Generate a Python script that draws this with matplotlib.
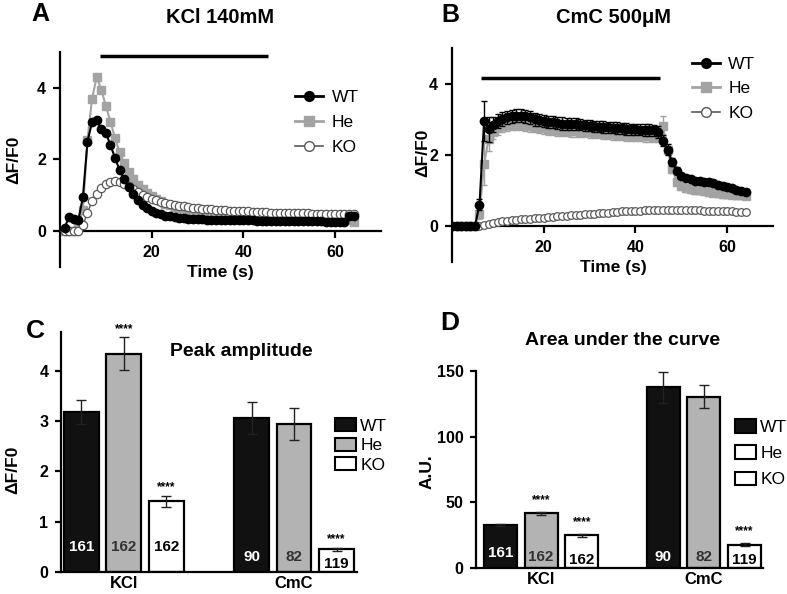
import matplotlib
matplotlib.use('Agg')
import matplotlib.pyplot as plt
from matplotlib.lines import Line2D
from matplotlib.patches import Patch

plt.rcParams['font.family'] = ['Liberation Sans', 'DejaVu Sans']

# ---------------- data ----------------
# panel A: KCl 140mM, one sample per second
t_kcl = list(range(1, 65))
wt_kcl = [0.10, 0.40, 0.35, 0.30, 0.95, 2.50, 3.05, 3.10, 2.85, 2.75,
          2.40, 2.05, 1.70, 1.45, 1.22, 1.03, 0.86, 0.74, 0.64, 0.57,
          0.51, 0.47, 0.43, 0.41, 0.39, 0.37, 0.36, 0.35, 0.34, 0.33,
          0.33, 0.32, 0.32, 0.32, 0.31, 0.31, 0.31, 0.30, 0.30, 0.30,
          0.30, 0.30, 0.29, 0.29, 0.29, 0.29, 0.29, 0.28, 0.28, 0.28,
          0.28, 0.28, 0.27, 0.27, 0.27, 0.27, 0.27, 0.26, 0.26, 0.26,
          0.26, 0.25, 0.42, 0.42]
he_kcl = [0.00, 0.00, 0.00, 0.15, 0.60, 2.55, 3.70, 4.30, 3.95, 3.50,
          3.05, 2.60, 2.20, 1.90, 1.65, 1.45, 1.30, 1.17, 1.06, 0.97,
          0.89, 0.83, 0.77, 0.72, 0.68, 0.64, 0.61, 0.58, 0.55, 0.53,
          0.51, 0.49, 0.47, 0.46, 0.45, 0.44, 0.43, 0.42, 0.41, 0.40,
          0.39, 0.39, 0.38, 0.38, 0.37, 0.37, 0.36, 0.36, 0.35, 0.35,
          0.35, 0.34, 0.34, 0.34, 0.33, 0.33, 0.33, 0.32, 0.32, 0.32,
          0.31, 0.31, 0.30, 0.25]
ko_kcl = [0.00, 0.00, 0.00, 0.00, 0.18, 0.50, 0.85, 1.05, 1.20, 1.32,
          1.38, 1.40, 1.38, 1.33, 1.25, 1.17, 1.09, 1.02, 0.96, 0.91,
          0.86, 0.82, 0.79, 0.76, 0.73, 0.71, 0.69, 0.67, 0.65, 0.64,
          0.63, 0.62, 0.61, 0.60, 0.59, 0.58, 0.57, 0.56, 0.56, 0.55,
          0.55, 0.54, 0.54, 0.53, 0.53, 0.52, 0.52, 0.52, 0.51, 0.51,
          0.51, 0.50, 0.50, 0.50, 0.49, 0.49, 0.49, 0.48, 0.48, 0.48,
          0.48, 0.47, 0.47, 0.47]
kcl_stim = [8.7, 45.4]

# panel B: CmC 500uM
t_cmc = list(range(0, 65))
wt_cmc = [0.00, 0.00, 0.00, 0.00, 0.00, 0.00, 0.60, 2.95, 2.72, 2.85,
          2.95, 3.00, 3.05, 3.08, 3.10, 3.10, 3.08, 3.05, 3.00, 2.97,
          2.95, 2.93, 2.92, 2.90, 2.88, 2.87, 2.86, 2.86, 2.85, 2.83,
          2.82, 2.80, 2.79, 2.78, 2.77, 2.76, 2.75, 2.74, 2.73, 2.72,
          2.72, 2.71, 2.70, 2.70, 2.69, 2.64, 2.40, 2.15, 1.80, 1.55,
          1.42, 1.36, 1.31, 1.28, 1.26, 1.25, 1.24, 1.20, 1.16, 1.13,
          1.10, 1.06, 1.02, 0.98, 0.96]
wt_cmc_err = [0.02, 0.02, 0.02, 0.02, 0.02, 0.02, 0.15, 0.55, 0.35, 0.22,
              0.20, 0.19, 0.18, 0.18, 0.18, 0.18, 0.18, 0.18, 0.18, 0.17,
              0.17, 0.17, 0.17, 0.17, 0.17, 0.17, 0.17, 0.17, 0.16, 0.16,
              0.16, 0.16, 0.16, 0.16, 0.16, 0.16, 0.16, 0.16, 0.16, 0.16,
              0.16, 0.16, 0.16, 0.16, 0.16, 0.16, 0.16, 0.15, 0.12, 0.10,
              0.08, 0.07, 0.07, 0.07, 0.07, 0.07, 0.07, 0.07, 0.07, 0.07,
              0.07, 0.07, 0.07, 0.07, 0.07]
he_cmc = [0.00, 0.00, 0.00, 0.00, 0.00, 0.00, 0.35, 1.75, 2.45, 2.65,
          2.75, 2.80, 2.83, 2.85, 2.86, 2.85, 2.83, 2.80, 2.78, 2.76,
          2.74, 2.72, 2.70, 2.69, 2.68, 2.67, 2.66, 2.66, 2.65, 2.64,
          2.63, 2.62, 2.61, 2.60, 2.59, 2.58, 2.57, 2.56, 2.55, 2.54,
          2.54, 2.53, 2.52, 2.52, 2.51, 2.50, 2.80, 2.15, 1.60, 1.25,
          1.12, 1.06, 1.03, 1.01, 1.00, 0.98, 0.96, 0.94, 0.92, 0.90,
          0.89, 0.88, 0.87, 0.86, 0.85]
he_cmc_err = [0.02, 0.02, 0.02, 0.02, 0.02, 0.02, 0.15, 0.60, 0.35, 0.20,
              0.18, 0.16, 0.15, 0.15, 0.15, 0.15, 0.15, 0.15, 0.15, 0.15,
              0.15, 0.15, 0.15, 0.15, 0.15, 0.15, 0.15, 0.15, 0.15, 0.15,
              0.15, 0.15, 0.15, 0.15, 0.15, 0.15, 0.15, 0.15, 0.15, 0.15,
              0.15, 0.15, 0.15, 0.15, 0.15, 0.15, 0.28, 0.15, 0.12, 0.10,
              0.10, 0.10, 0.10, 0.10, 0.10, 0.10, 0.10, 0.10, 0.10, 0.10,
              0.10, 0.10, 0.10, 0.10, 0.10]
ko_cmc = [0.00, 0.00, 0.00, 0.00, 0.00, 0.00, 0.00, 0.04, 0.07, 0.09,
          0.11, 0.13, 0.15, 0.16, 0.18, 0.19, 0.20, 0.21, 0.22, 0.23,
          0.24, 0.25, 0.26, 0.27, 0.28, 0.29, 0.30, 0.31, 0.32, 0.33,
          0.34, 0.35, 0.36, 0.37, 0.38, 0.39, 0.40, 0.41, 0.41, 0.42,
          0.43, 0.43, 0.44, 0.44, 0.44, 0.45, 0.45, 0.45, 0.45, 0.45,
          0.45, 0.45, 0.44, 0.44, 0.44, 0.43, 0.43, 0.42, 0.42, 0.42,
          0.41, 0.41, 0.40, 0.40, 0.39]
cmc_stim = [6.3, 45.4]

# panels C and D: bar summaries
genotypes = ['WT', 'He', 'KO']
stimuli = ['KCl', 'CmC']
peak_kcl = [3.18, 4.34, 1.40]
peak_kcl_err = [0.24, 0.33, 0.11]
peak_cmc = [3.06, 2.95, 0.45]
peak_cmc_err = [0.32, 0.32, 0.03]
auc_kcl = [32.9, 41.7, 24.9]
auc_kcl_err = [0.6, 1.3, 1.0]
auc_cmc = [137.3, 130.2, 17.9]
auc_cmc_err = [11.6, 8.8, 1.3]
n_kcl = ['161', '162', '162']
n_cmc = ['90', '82', '119']
stars_peak = ['', '****', '****', '', '', '****']
stars_auc = ['', '****', '****', '', '', '****']

# ---------------- figure ----------------
fig = plt.figure(figsize=(7.87, 5.94), dpi=100)
axA = fig.add_axes([0.0762, 0.5505, 0.408, 0.362])
axB = fig.add_axes([0.5743, 0.5594, 0.408, 0.3598])
axC = fig.add_axes([0.0775, 0.0375, 0.3761, 0.404])
axD = fig.add_axes([0.6048, 0.0433, 0.365, 0.3327])

gray_line = '#a3a3a3'
ko_edge = '#5a5a5a'
tick_fs = 11.5


def style_trace_axes(ax):
    ax.set_xlim(0, 70)
    ax.set_ylim(-1, 5)
    for s in ['top', 'right']:
        ax.spines[s].set_visible(False)
    ax.spines['bottom'].set_position(('data', 0))
    ax.spines['left'].set_linewidth(1.6)
    ax.spines['bottom'].set_linewidth(1.6)
    ax.set_xticks([20, 40, 60])
    ax.set_yticks([0, 2, 4])
    ax.tick_params(width=1.6, length=5)
    ax.tick_params(axis='x', pad=5)
    ax.tick_params(axis='y', pad=5)
    for lbl in ax.get_xticklabels() + ax.get_yticklabels():
        lbl.set_fontweight('bold')
        lbl.set_fontsize(tick_fs)


# panel A
axA.plot(t_kcl, he_kcl, color=gray_line, marker='s', ms=6, lw=1.5, zorder=2)
axA.plot(t_kcl, ko_kcl, color=ko_edge, marker='o', ms=6, mfc='white', mec=ko_edge,
         mew=0.9, lw=1.0, zorder=3)
axA.plot(t_kcl, wt_kcl, color='black', marker='o', ms=6, lw=1.5, zorder=4)
axA.plot(kcl_stim, [4.88, 4.88], color='black', lw=2.5, solid_capstyle='butt')
style_trace_axes(axA)

# panel B
axB.errorbar(t_cmc, he_cmc, yerr=he_cmc_err, color=gray_line, ecolor=gray_line,
             marker='s', ms=5.5, lw=1.5, elinewidth=1, capsize=2.5, zorder=2)
axB.plot(t_cmc, ko_cmc, color=ko_edge, marker='o', ms=5.5, mfc='white', mec=ko_edge,
         mew=0.9, lw=1.0, zorder=3)
axB.errorbar(t_cmc, wt_cmc, yerr=wt_cmc_err, color='black', ecolor='black',
             marker='o', ms=6, lw=1.5, elinewidth=1, capsize=2.5, zorder=4)
axB.plot(cmc_stim, [4.17, 4.17], color='black', lw=2.5, solid_capstyle='butt')
style_trace_axes(axB)

trace_handles = [
    Line2D([], [], color='black', marker='o', ms=7, lw=2),
    Line2D([], [], color=gray_line, marker='s', ms=7, lw=2),
    Line2D([], [], color=ko_edge, marker='o', ms=7, mfc='white', lw=1.2),
]
axA.legend(trace_handles, genotypes, loc='upper left', frameon=False, fontsize=12.5,
           bbox_to_anchor=(0.375, 0.848), bbox_transform=fig.transFigure,
           handlelength=1.6, handletextpad=0.5, labelspacing=0.55,
           borderpad=0, borderaxespad=0)
axB.legend(trace_handles, genotypes, loc='upper left', frameon=False, fontsize=12.5,
           bbox_to_anchor=(0.879, 0.905), bbox_transform=fig.transFigure,
           handlelength=1.6, handletextpad=0.5, labelspacing=0.55,
           borderpad=0, borderaxespad=0)

fig.text(0.2795, 0.542, 'Time (s)', ha='center', va='center', fontsize=12.5, fontweight='bold')
fig.text(0.779, 0.549, 'Time (s)', ha='center', va='center', fontsize=12.5, fontweight='bold')
fig.text(0.018, 0.731, 'ΔF/F0', ha='center', va='center', rotation=90, fontsize=12.5, fontweight='bold')
fig.text(0.537, 0.742, 'ΔF/F0', ha='center', va='center', rotation=90, fontsize=12.5, fontweight='bold')
fig.text(0.2795, 0.970, 'KCl 140mM', ha='center', va='center', fontsize=14.5, fontweight='bold')
fig.text(0.779, 0.970, 'CmC 500μM', ha='center', va='center', fontsize=14.5, fontweight='bold')
fig.text(0.051, 0.977, 'A', ha='center', va='center', fontsize=18, fontweight='bold')
fig.text(0.572, 0.975, 'B', ha='center', va='center', fontsize=18, fontweight='bold')

# panels C and D
bar_colors = ['#111111', '#b3b3b3', 'white']
n_colors = ['white', '#333333', 'black']
bar_x = [0, 1, 2, 4, 5, 6]


def draw_bars(ax, kcl, kcl_err, cmc, cmc_err, width, n_y, stars, star_pad):
    vals = kcl + cmc
    errs = kcl_err + cmc_err
    cols = bar_colors + bar_colors
    ax.bar(bar_x, vals, width=width, color=cols, edgecolor='black', linewidth=1.6,
           yerr=errs, capsize=3.5, error_kw=dict(elinewidth=1, capthick=1, ecolor='#222222'),
           zorder=2)
    labels = n_kcl + n_cmc
    tcols = n_colors + n_colors
    for x, lab, c, y in zip(bar_x, labels, tcols, n_y):
        ax.text(x, y, lab, ha='center', va='center', color=c, fontsize=11,
                fontweight='bold', zorder=3)
    for x, v, e, s in zip(bar_x, vals, errs, stars):
        if s:
            ax.text(x, v + e + star_pad, s, ha='center', va='bottom', fontsize=8.5,
                    fontweight='bold')
    for s in ['top', 'right']:
        ax.spines[s].set_visible(False)
    ax.spines['left'].set_linewidth(1.6)
    ax.spines['bottom'].set_linewidth(1.6)
    ax.set_xticks([1, 5])
    ax.set_xticklabels(stimuli, fontsize=12, fontweight='bold')
    ax.tick_params(axis='x', length=0, pad=3)
    ax.tick_params(axis='y', width=1.6, length=4, pad=5)


draw_bars(axC, peak_kcl, peak_kcl_err, peak_cmc, peak_cmc_err, 0.82,
          [0.5, 0.5, 0.5, 0.3, 0.3, 0.15], stars_peak, 0.05)
axC.set_xlim(-0.48, 6.48)
axC.set_ylim(0, 4.78)
axC.set_yticks([0, 1, 2, 3, 4])
for lbl in axC.get_yticklabels():
    lbl.set_fontweight('bold')
    lbl.set_fontsize(tick_fs)

draw_bars(axD, auc_kcl, auc_kcl_err, auc_cmc, auc_cmc_err, 0.81,
          [11.4, 8.8, 6.3, 8.8, 8.8, 6.3], stars_auc, 4.5)
axD.set_xlim(-0.6, 6.46)
axD.set_ylim(0, 150)
axD.set_yticks([0, 50, 100, 150])
for lbl in axD.get_yticklabels():
    lbl.set_fontweight('bold')
    lbl.set_fontsize(tick_fs)

c_handles = [Patch(facecolor=c, edgecolor='black', linewidth=1.5) for c in bar_colors]
d_handles = [Patch(facecolor=c, edgecolor='black', linewidth=1.5)
             for c in ['#111111', 'white', 'white']]
axC.legend(c_handles, genotypes, loc='upper left', frameon=False, fontsize=12.5,
           bbox_to_anchor=(0.4257, 0.296), bbox_transform=fig.transFigure,
           handlelength=1.2, handleheight=0.8, handletextpad=0.25, labelspacing=0.22,
           borderpad=0, borderaxespad=0)
axD.legend(d_handles, genotypes, loc='upper left', frameon=False, fontsize=12.5,
           bbox_to_anchor=(0.934, 0.294), bbox_transform=fig.transFigure,
           handlelength=1.2, handleheight=0.8, handletextpad=0.25, labelspacing=0.6,
           borderpad=0, borderaxespad=0)

fig.text(0.307, 0.408, 'Peak amplitude', ha='center', va='center', fontsize=14, fontweight='bold')
fig.text(0.7916, 0.4276, 'Area under the curve', ha='center', va='center', fontsize=14,
         fontweight='bold')
fig.text(0.0445, 0.443, 'C', ha='center', va='center', fontsize=19, fontweight='bold')
fig.text(0.572, 0.456, 'D', ha='center', va='center', fontsize=19, fontweight='bold')
fig.text(0.0165, 0.209, 'ΔF/F0', ha='center', va='center', rotation=90, fontsize=12.5,
         fontweight='bold')
fig.text(0.5425, 0.206, 'A.U.', ha='center', va='center', rotation=90, fontsize=12.5,
         fontweight='bold')

fig.savefig('out.png', dpi=100)
